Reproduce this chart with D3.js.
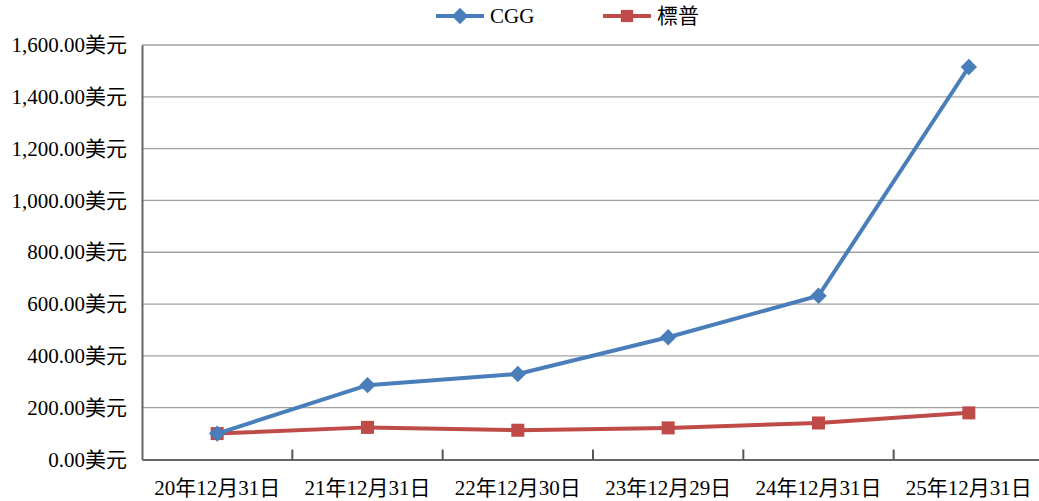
<!DOCTYPE html>
<html>
<head>
<meta charset="utf-8">
<script src="https://cdn.jsdelivr.net/npm/d3@7"></script>
<style>
  body { margin: 0; background: #fff; }
  text { font-family: "Liberation Serif", "Noto Sans CJK TC", serif; fill: #000; }
</style>
</head>
<body>
<div id="chart"></div>
<script>
// data
var dates = ["20年12月31日", "21年12月31日", "22年12月30日", "23年12月29日", "24年12月31日", "25年12月31日"];
var cgg = [100, 287, 330, 472, 632, 1515];
var sp = [100, 124, 113, 122, 141, 180];
var yTicks = [0, 200, 400, 600, 800, 1000, 1200, 1400, 1600];

var W = 1039, H = 501;
var plotL = 142, plotR = 1044, plotT = 45, plotB = 459.5;

var svg = d3.select("#chart").append("svg")
    .attr("width", W)
    .attr("height", H);

var x = d3.scaleBand().domain(dates).range([plotL, plotR]);
var y = d3.scaleLinear().domain([0, 1600]).range([plotB, plotT]);

// gridlines
svg.append("g").selectAll("line")
    .data(yTicks.slice(1))
    .enter().append("line")
    .attr("x1", plotL).attr("x2", plotR)
    .attr("y1", function(d) { return y(d); })
    .attr("y2", function(d) { return y(d); })
    .attr("stroke", "#a0a0a0")
    .attr("stroke-width", 1.3);

// y axis
var yAxis = svg.append("g")
    .attr("transform", "translate(" + plotL + ",0)")
    .call(d3.axisLeft(y).tickValues(yTicks).tickSize(0).tickPadding(15)
        .tickFormat(function(d) { return d3.format(",.2f")(d) + "美元"; }));
yAxis.select(".domain").attr("stroke", "#666").attr("stroke-width", 2);
yAxis.selectAll("text").style("font-size", "21px");

// x axis, ticks point inward
var xAxis = svg.append("g")
    .attr("transform", "translate(0," + plotB + ")")
    .call(d3.axisBottom(x).tickSize(0).tickPadding(21));
xAxis.select(".domain").attr("stroke", "#666").attr("stroke-width", 2);
xAxis.selectAll("text").style("font-size", "21px");
xAxis.selectAll(".bt").data(dates)
    .enter().append("line")
    .attr("class", "bt")
    .attr("x1", function(d) { return x(d) + x.step(); })
    .attr("x2", function(d) { return x(d) + x.step(); })
    .attr("y1", 0).attr("y2", -10)
    .attr("stroke", "#555").attr("stroke-width", 2);

var line = d3.line()
    .x(function(d, i) { return x(dates[i]) + x.bandwidth() / 2; })
    .y(function(d) { return y(d); });

var blue = "#4a7ebb", red = "#be4b48";

svg.append("path").datum(sp)
    .attr("d", line).attr("fill", "none")
    .attr("stroke", red).attr("stroke-width", 4);
svg.selectAll(".sq").data(sp).enter().append("rect")
    .attr("class", "sq")
    .attr("x", function(d, i) { return x(dates[i]) + x.bandwidth() / 2 - 6.5; })
    .attr("y", function(d) { return y(d) - 6.5; })
    .attr("width", 13).attr("height", 13)
    .attr("fill", red);

svg.append("path").datum(cgg)
    .attr("d", line).attr("fill", "none")
    .attr("stroke", blue).attr("stroke-width", 4);
var diamond = d3.symbol().type(d3.symbolSquare).size(135);
svg.selectAll(".dm").data(cgg).enter().append("path")
    .attr("class", "dm")
    .attr("d", diamond)
    .attr("transform", function(d, i) {
        return "translate(" + (x(dates[i]) + x.bandwidth() / 2) + "," + y(d) + ") rotate(45)";
    })
    .attr("fill", blue);

// legend
var legend = [
    { name: "CGG", color: blue, shape: "diamond", x: 436 },
    { name: "標普", color: red, shape: "square", x: 603 }
];
var lg = svg.append("g").selectAll("g").data(legend).enter().append("g")
    .attr("transform", function(d) { return "translate(" + d.x + ",16)"; });
lg.append("line")
    .attr("x1", 0).attr("x2", 48).attr("y1", 0).attr("y2", 0)
    .attr("stroke", function(d) { return d.color; }).attr("stroke-width", 4);
lg.append("path")
    .attr("d", function(d) {
        return d.shape === "diamond" ? diamond() : d3.symbol().type(d3.symbolSquare).size(150)();
    })
    .attr("transform", function(d) { return "translate(24,0)" + (d.shape === "diamond" ? " rotate(45)" : ""); })
    .attr("fill", function(d) { return d.color; });
lg.append("text")
    .attr("x", 54).attr("y", 7)
    .style("font-size", "21px")
    .text(function(d) { return d.name; });
</script>
</body>
</html>
